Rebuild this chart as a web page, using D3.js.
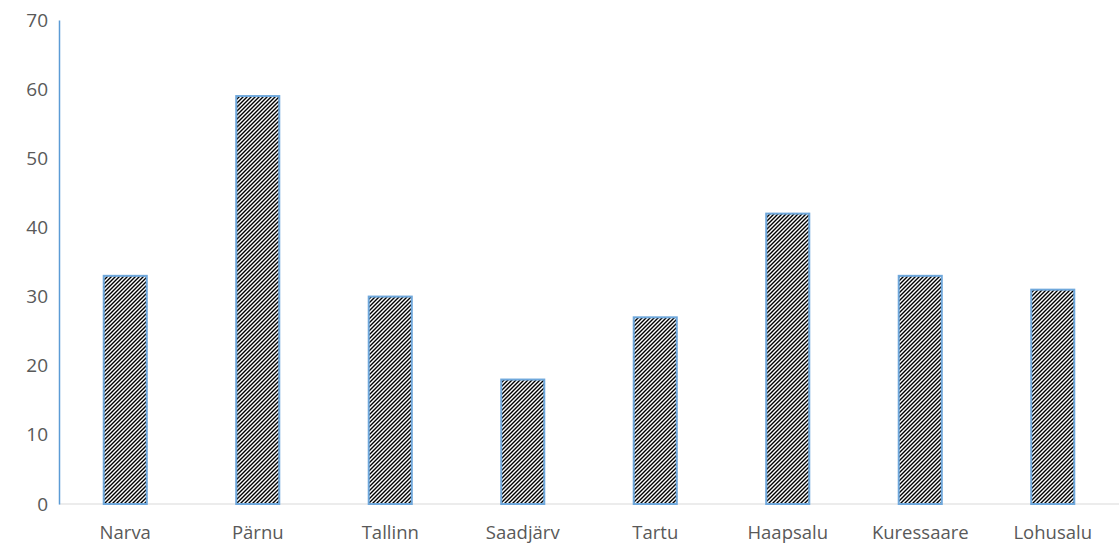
<!DOCTYPE html>
<html>
<head>
<meta charset="utf-8">
<script src="https://cdn.jsdelivr.net/npm/d3@7"></script>
<style>
  body { margin: 0; background: #fff; }
  svg { display: block; }
  svg text { font-family: "Open Sans", "Liberation Sans", sans-serif; }
</style>
</head>
<body>
<svg id="chart" width="1120" height="550"></svg>
<script>
const categories = ["Narva", "Pärnu", "Tallinn", "Saadjärv", "Tartu", "Haapsalu", "Kuressaare", "Lohusalu"];
const values = [33, 59, 30, 18, 27, 42, 33, 31];
const yTicks = [0, 10, 20, 30, 40, 50, 60, 70];

const svg = d3.select("#chart");
const margin = { left: 59, right: 1, top: 20, bottom: 46 };
const W = 1120, H = 550;

const x = d3.scaleBand().domain(categories).range([margin.left, W - margin.right]).paddingInner(0.675).paddingOuter(0.3375);
const y = d3.scaleLinear().domain([0, 70]).range([H - margin.bottom, margin.top]);

// diagonal hatch fill
const defs = svg.append("defs");
const pat = defs.append("pattern")
  .attr("id", "hatch").attr("patternUnits", "userSpaceOnUse")
  .attr("width", 4).attr("height", 4);
pat.append("rect").attr("width", 4).attr("height", 4).attr("fill", "#fff");
pat.append("path").attr("d", "M-1,1 l2,-2 M0,4 l4,-4 M3,5 l2,-2")
  .attr("stroke", "#000").attr("stroke-width", 1.4);

// baseline
svg.append("line")
  .attr("x1", margin.left).attr("x2", W - margin.right)
  .attr("y1", y(0)).attr("y2", y(0))
  .attr("stroke", "#d9d9d9").attr("stroke-width", 1);

// bars
svg.append("g").selectAll("rect").data(categories).join("rect")
  .attr("x", d => x(d))
  .attr("y", (d, i) => y(values[i]))
  .attr("width", x.bandwidth())
  .attr("height", (d, i) => y(0) - y(values[i]))
  .attr("fill", "url(#hatch)")
  .attr("stroke", "#6fa8dc").attr("stroke-width", 2);

// y axis
const yAxis = d3.axisLeft(y).tickValues(yTicks).tickSize(0).tickPadding(11);
const gy = svg.append("g").attr("transform", `translate(${margin.left},0)`).call(yAxis);
gy.attr("font-family", null).attr("font-size", null);
gy.select(".domain").attr("stroke", "#5b9bd5").attr("stroke-width", 1.5);
gy.selectAll("text").attr("fill", "#595959").style("font-size", "19px");

// x axis labels
const xAxis = d3.axisBottom(x).tickSize(0).tickPadding(22);
const gx = svg.append("g").attr("transform", `translate(0,${y(0)})`).call(xAxis);
gx.attr("font-family", null).attr("font-size", null);
gx.select(".domain").remove();
gx.selectAll("text").attr("fill", "#595959").style("font-size", "18.5px");
</script>
</body>
</html>
